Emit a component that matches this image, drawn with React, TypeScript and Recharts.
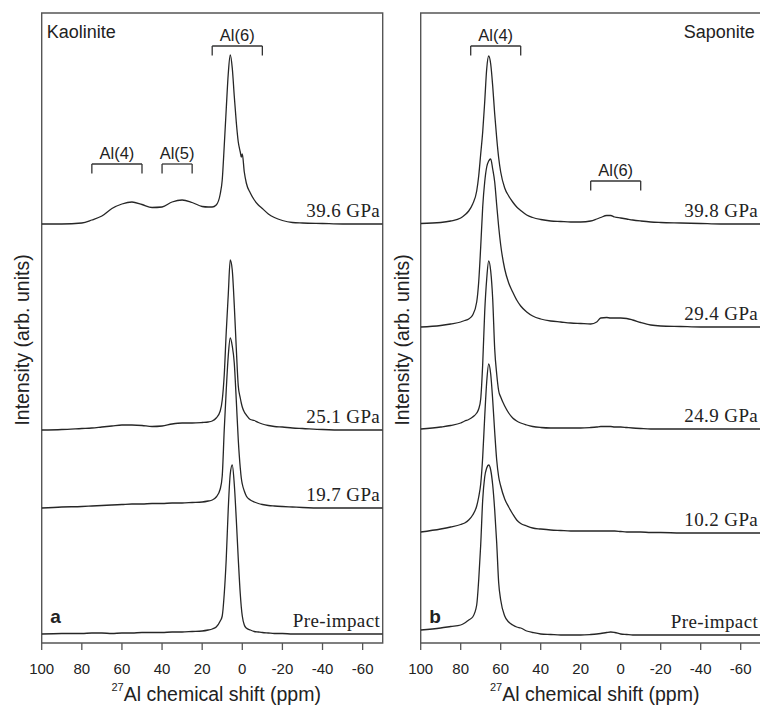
import { LabelList, Line, LineChart, ReferenceArea, ReferenceLine, XAxis, YAxis } from "recharts";

const SANS = "'Liberation Sans', Arial, sans-serif";
const SERIF = "'Liberation Serif', 'Times New Roman', serif";
const INK = "#222";
const TRACE = "#262626";
const FRAME = "#555";

const PPM_TICKS = [100, 80, 60, 40, 20, 0, -20, -40, -60];

// Kaolinite: shift grid (ppm) and intensities above each trace's own baseline
const KAO_PPM = [100, 90, 80, 75, 70, 65, 60, 55, 50, 45, 40, 35, 30, 25, 20, 17, 15, 13, 11, 10, 9, 8, 7, 6, 5, 4, 3, 2, 1, 0.5, 0, -1, -2, -4, -6, -8, -10, -13, -16, -20, -25, -30, -40, -50, -60, -70];
const KAO_396 = [0, 0, 1, 4, 8, 15.5, 20, 22, 19.5, 16.5, 17, 22, 24, 21.5, 17.5, 17, 17, 19, 30, 44, 78, 115, 150, 169, 156, 128, 102, 82, 72, 67, 70, 52, 41, 31, 24, 19, 15.5, 10, 6.5, 3.5, 1.5, 1, 0.5, 0, 0, 0];
const KAO_251 = [0, 0.5, 1.5, 2, 3, 4, 5, 5, 4.5, 3.5, 4, 6, 7, 7, 7.5, 8, 9, 12, 19, 30, 55, 98, 135, 170, 160, 125, 82, 44, 32, 27, 23, 18, 15, 10.5, 9.5, 7.5, 6, 4.5, 3.5, 3, 2, 1.5, 0.5, 0, 0, 0];
const KAO_197 = [0, 1, 1.5, 2, 2.5, 3, 3.5, 4, 4, 4.5, 4.5, 5, 5, 5.5, 6, 7, 8, 11, 19, 32, 78, 118, 152, 170, 162, 145, 108, 68, 40, 30, 24, 17, 12, 8, 6, 4.5, 3.5, 2.5, 2, 1.5, 1, 0.5, 0, 0, 0, 0];
const KAO_PRE = [0, 0.5, 0.5, 1, 1, 0.5, 1, 1, 1.5, 1.5, 1.5, 2, 2, 2.5, 3, 4, 5, 7, 13, 18, 40, 75, 125, 160, 169, 150, 115, 75, 40, 27, 18, 9, 6, 4, 2.5, 2, 1.5, 1, 0.5, 0.5, 0, 0, 0, 0, 0, 0];
const KAO_LABELS = ["39.6 GPa", "25.1 GPa", "19.7 GPa", "Pre-impact"];
const KAO_OFFSETS = [419, 213, 135, 9];
const KAO_SITES = ["Al(4)", "Al(5)", "Al(6)"];
const KAO_SITE_FROM = [75, 40, 15];
const KAO_SITE_TO = [50, 25, -10];
const KAO_SITE_LEVEL = [479, 479, 597];

// Saponite
const SAP_PPM = [100, 90, 85, 80, 78, 76, 74, 72, 71, 70, 69, 68, 67, 66, 65, 64, 63, 62, 61, 60, 58, 56, 54, 52, 50, 47, 44, 40, 35, 30, 25, 20, 15, 12, 10, 7, 5, 3, 0, -3, -6, -10, -15, -20, -30, -40, -50, -60, -70];
const SAP_398 = [0.5, 1.5, 3, 6, 9, 13, 20, 33, 48, 70, 92, 122, 155, 168, 160, 138, 110, 86, 66, 52, 36, 28, 22, 17, 13.5, 9, 6.5, 4.5, 3, 2.5, 2, 2, 3, 5, 6.5, 8.5, 8.5, 7, 6, 5, 4, 3, 2, 1.5, 1, 0.5, 0, 0, 0];
const SAP_294 = [0, 1.5, 3, 5, 6.5, 8, 12, 25, 45, 80, 120, 145, 160, 166, 168, 158, 145, 122, 100, 82, 58, 44, 35, 27, 21, 15, 11, 8, 6, 5, 4, 3.5, 3, 5, 9, 9.5, 9, 9, 9, 8.5, 7, 4.5, 2, 1, 0.5, 0, 0, 0, 0];
const SAP_249 = [0, 2, 3.5, 6, 8, 9.5, 12, 16, 20, 30, 65, 117, 150, 168, 158, 130, 80, 55, 38, 32, 23, 16, 11, 8, 6, 4, 2.5, 1.5, 1, 1, 1, 1, 1.5, 2, 2.5, 2.5, 2.5, 2, 2, 1.5, 1, 0.5, 0, 0, 0, 0, 0, 0, 0];
const SAP_102 = [0, 3, 5, 7.5, 9, 12, 17, 26, 35, 48, 75, 115, 150, 168, 158, 132, 100, 72, 55, 46, 33, 25, 18, 12, 8.5, 6, 4, 3, 2, 1.5, 1, 1, 1, 1, 1, 1, 1, 1, 0.5, 0, 0, 0, -0.5, -0.5, -1, -1, -1, -1, -1];
const SAP_PRE = [5, 7, 8.5, 10, 12, 15, 18, 30, 55, 90, 135, 158, 167, 170, 165, 150, 125, 92, 52, 35, 19, 13, 10, 8, 7, 4, 2.5, 1, 0.5, 0, 0, 0, 0.5, 1, 1.5, 2.5, 3, 2.5, 1, 0.5, 0, 0, 0, 0, 0, 0, 0, 0, 0];
const SAP_LABELS = ["39.8 GPa", "29.4 GPa", "24.9 GPa", "10.2 GPa", "Pre-impact"];
const SAP_OFFSETS = [419, 316, 214, 111, 8];
const SAP_SITES = ["Al(4)", "Al(6)"];
const SAP_SITE_FROM = [75, 15];
const SAP_SITE_TO = [50, -10];
const SAP_SITE_LEVEL = [597, 462];

const BRACKET_DROP = 9.5;

function buildRows(ppm: number[], spectra: number[][], offsets: number[]) {
  return ppm.map((x, i) => {
    const row: Record<string, number> = { ppm: x };
    spectra.forEach((s, k) => {
      row[`s${k}`] = offsets[k] + s[i];
    });
    return row;
  });
}

const kaoRows = buildRows(KAO_PPM, [KAO_396, KAO_251, KAO_197, KAO_PRE], KAO_OFFSETS);
const sapRows = buildRows(SAP_PPM, [SAP_398, SAP_294, SAP_249, SAP_102, SAP_PRE], SAP_OFFSETS);

type PanelProps = {
  rows: Record<string, number>[];
  labels: string[];
  sites: string[];
  from: number[];
  to: number[];
  level: number[];
  name: string;
  nameAtRight: boolean;
  letter: string;
  width: number;
  left: number;
  right: number;
};

function Panel({ rows, labels, sites, from, to, level, name, nameAtRight, letter, width, left, right }: PanelProps) {
  const last = rows.length - 1;
  const mid = left + (width - left - right) / 2;
  return (
    <LineChart width={width} height={705} data={rows} margin={{ top: 13, right, left, bottom: 0 }}>
      <XAxis
        type="number"
        dataKey="ppm"
        domain={[-70, 100]}
        reversed
        allowDataOverflow
        ticks={PPM_TICKS}
        axisLine={false}
        tickLine={{ stroke: FRAME, strokeWidth: 1.3 }}
        tickSize={7}
        tickMargin={13}
        height={62}
        tick={{ fontSize: 15, fill: INK, fontFamily: SANS }}
      />
      <YAxis type="number" domain={[0, 630]} hide allowDataOverflow />
      <ReferenceArea x1={100} x2={-70} y1={0} y2={630} fill="none" fillOpacity={0} stroke={FRAME} strokeWidth={1.4} />
      {sites.map((s, i) => [
        <ReferenceLine
          key={`${s}-h`}
          segment={[
            { x: from[i], y: level[i] },
            { x: to[i], y: level[i] },
          ]}
          stroke="#333"
          strokeWidth={1.3}
          label={{ value: s, position: "top", offset: 5, fill: INK, fontSize: 16.5, fontFamily: SANS }}
        />,
        <ReferenceLine
          key={`${s}-l`}
          segment={[
            { x: from[i], y: level[i] },
            { x: from[i], y: level[i] - BRACKET_DROP },
          ]}
          stroke="#333"
          strokeWidth={1.3}
        />,
        <ReferenceLine
          key={`${s}-r`}
          segment={[
            { x: to[i], y: level[i] },
            { x: to[i], y: level[i] - BRACKET_DROP },
          ]}
          stroke="#333"
          strokeWidth={1.3}
        />,
      ])}
      {labels.map((lab, k) => (
        <Line
          key={lab + k}
          dataKey={`s${k}`}
          type="monotone"
          stroke={TRACE}
          strokeWidth={1.3}
          dot={false}
          isAnimationActive={false}
        >
          <LabelList
            dataKey={`s${k}`}
            content={(p: any) => {
              if (p.index !== last) return null;
              const px = p.viewBox?.x ?? p.x;
              const py = p.viewBox?.y ?? p.y;
              return (
                <text
                  x={px - 2.5}
                  y={py - 7}
                  textAnchor="end"
                  fontFamily={SERIF}
                  fontSize={19}
                  letterSpacing={0.4}
                  fill={INK}
                >
                  {lab}
                </text>
              );
            }}
          />
        </Line>
      ))}
      <text
        x={nameAtRight ? width - right - 6 : left + 5}
        y={38}
        textAnchor={nameAtRight ? "end" : "start"}
        fontFamily={SANS}
        fontSize={18}
        fill={INK}
      >
        {name}
      </text>
      <text x={left + 8.5} y={623} fontFamily={SANS} fontSize={19} fontWeight="bold" fill={INK}>
        {letter}
      </text>
      <text
        transform="translate(29,340) rotate(-90)"
        textAnchor="middle"
        fontFamily={SANS}
        fontSize={19.5}
        fill={INK}
      >
        Intensity (arb. units)
      </text>
      <text x={mid + 4} y={701} textAnchor="middle" fontFamily={SANS} fontSize={19.5} fill={INK}>
        <tspan fontSize={11} dy={-10}>
          27
        </tspan>
        <tspan dy={10}>Al chemical shift (ppm)</tspan>
      </text>
    </LineChart>
  );
}

export default function App() {
  return (
    <div
      style={{
        position: "absolute",
        left: 0,
        top: 0,
        width: 760,
        height: 705,
        overflow: "hidden",
        background: "#fff",
      }}
    >
      <div style={{ position: "absolute", left: 0, top: 0 }}>
        <Panel
          rows={kaoRows}
          labels={KAO_LABELS}
          sites={KAO_SITES}
          from={KAO_SITE_FROM}
          to={KAO_SITE_TO}
          level={KAO_SITE_LEVEL}
          name="Kaolinite"
          nameAtRight={false}
          letter="a"
          width={390}
          left={41.7}
          right={7.3}
        />
      </div>
      <div style={{ position: "absolute", left: 380, top: 0 }}>
        <Panel
          rows={sapRows}
          labels={SAP_LABELS}
          sites={SAP_SITES}
          from={SAP_SITE_FROM}
          to={SAP_SITE_TO}
          level={SAP_SITE_LEVEL}
          name="Saponite"
          nameAtRight
          letter="b"
          width={400}
          left={40.7}
          right={19.3}
        />
      </div>
    </div>
  );
}
